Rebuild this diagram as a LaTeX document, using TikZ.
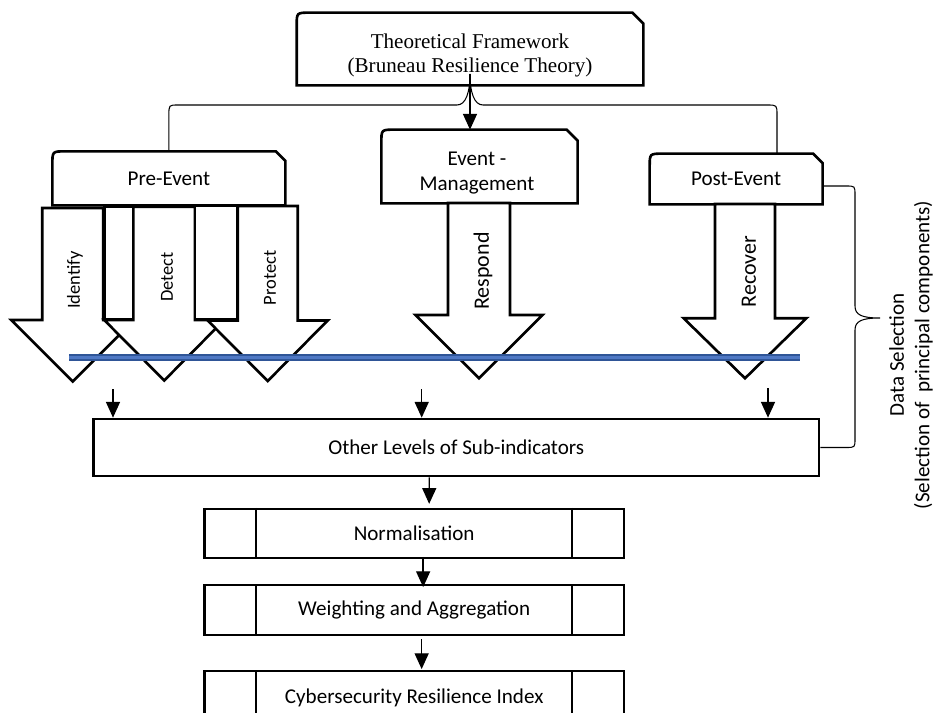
\documentclass[tikz,border=0pt]{standalone}
\usepackage{fontspec}
\setmainfont{Carlito}
\newfontfamily\serifface{Liberation Serif}
\usetikzlibrary{arrows.meta,calc,positioning}

\definecolor{bandedge}{RGB}{47,85,151}
\definecolor{bandfill}{RGB}{79,120,196}

\tikzset{
  boxedge/.style={line width=1.5pt, line join=miter},
  blockedge/.style={line width=1.5pt, line join=miter, fill=white},
  snipnode/.style={draw=none, inner sep=0pt, font=\fontsize{12}{14.4}\selectfont},
  boxtext/.style={inner sep=0pt, align=center, font=\fontsize{12}{14.4}\selectfont},
  tftext/.style={inner sep=0pt, align=center, font=\serifface\fontsize{12}{13.8}\selectfont},
  procbox/.style={draw, line width=1.3pt, inner sep=0pt, minimum width=8.386cm, font=\fontsize{12}{14.4}\selectfont},
  smalllabel/.style={rotate=90, inner sep=0pt, font=\fontsize{10.5}{12}\selectfont},
  biglabel/.style={rotate=90, inner sep=0pt, font=\fontsize{12.5}{14}\selectfont},
  braceline/.style={line width=0.6pt},
  flowarrow/.style={line width=0.75pt, -{Triangle[length=9pt,width=8pt]}}
}

% outline with one rounded and one snipped top corner
\newcommand{\snipoutline}[2]{%
  \draw[boxedge] (#1.south west) -- ($(#1.north west)+(0,13)$) .. controls (#1.north west) .. ($(#1.north west)+(13,0)$)
    -- ($(#1.north east)+(-#2,0)$) -- ($(#1.north east)+(0,#2)$) -- (#1.south east) -- cycle;}

% block arrow pointing down: centre, top, head top, tip, half shaft, half head
\newcommand{\downblock}[6]{%
  \draw[blockedge] (#1-#5,#2) -- (#1+#5,#2) -- (#1+#5,#3) -- (#1+#6,#3) -- (#1,#4) -- (#1-#6,#3) -- (#1-#5,#3) -- cycle;}

\begin{document}
\begin{tikzpicture}[x=0.02cm, y=-0.02cm]
  \useasboundingbox (0,0) rectangle (934,713);

  % framework
  \node[snipnode, minimum width=6.92cm, minimum height=1.44cm] (tf) at (470,49) {};
  \snipoutline{tf}{11}
  \node[tftext] (tftitle) at (470,55.2) {Theoretical Framework\\(Bruneau Resilience Theory)};

  % phases
  \node[snipnode, minimum width=4.646cm, minimum height=1.066cm] (pre) at (168.85,178.35) {Pre-Event};
  \snipoutline{pre}{9.5}
  \node[snipnode, minimum width=3.912cm, minimum height=1.46cm] (event) at (479.5,166.5) {};
  \snipoutline{event}{11}
  \node[boxtext] (eventtitle) at (477,172.8) {Event -\\Management};
  \node[snipnode, minimum width=3.446cm, minimum height=1cm] (post) at (736.15,179) {Post-Event};
  \snipoutline{post}{9.5}

  % brace from the framework
  \coordinate (tip) at (470,74);
  \coordinate (bracer) at (777,154);
  \draw[braceline] (pre.north) -- (168.9,115) .. controls (168.9,105) .. (178,105) -- (457,105)
    .. controls (466,105) and (470,92) .. (tip) .. controls (470,92) and (474,105) .. (483,105)
    -- (767,105) .. controls (777,105) .. (777,115) -- (bracer);
  \draw[flowarrow] (tip) -- (tip |- event.north);

  % functions
  \downblock{72.8}{208}{320}{381.5}{30.5}{61.5}
  \node[smalllabel] (identify) at (75,280) {Identify};
  \draw[blockedge] (104.3,206.7) rectangle (133.3,319.5);
  \downblock{164.2}{206.7}{320}{380.5}{30.8}{60}
  \node[smalllabel] (detect) at (167,277) {Detect};
  \draw[blockedge] (195,206) rectangle (237.7,319.5);
  \downblock{267.7}{206}{320.5}{381}{30}{60}
  \node[smalllabel] (protect) at (270,278) {Protect};
  \downblock{479}{203}{315}{378.3}{31}{63.5}
  \node[biglabel] (respond) at (483,271) {Respond};
  \downblock{745}{204}{318.3}{378.3}{30}{61.3}
  \node[biglabel] (recover) at (749,271.5) {Recover};

  % blue band
  \draw[line width=4pt, bandedge] (69,357.7) -- (800,357.7);
  \draw[line width=1.8pt, bandfill] (69,357.7) -- (800,357.7);

  % sub-indicators
  \node[procbox, minimum width=14.508cm, minimum height=1.14cm, line width=1.5pt] (other) at (456.3,447.5) {Other Levels of Sub-indicators};
  \coordinate (sub1) at (113,389);
  \coordinate (sub2) at (421.7,389);
  \coordinate (sub3) at (768,388);
  \draw[flowarrow] (sub1) -- (sub1 |- other.north);
  \draw[flowarrow] (sub2) -- (sub2 |- other.north);
  \draw[flowarrow] (sub3) -- (sub3 |- other.north);

  % index steps
  \node[procbox, minimum height=0.974cm] (norm) at (414.15,533.35) {Normalisation};
  \node[procbox, minimum height=0.994cm, below=0.506cm of norm] (weight) {Weighting and Aggregation};
  \node[procbox, minimum height=1.046cm, below=0.68cm of weight] (cri) {Cybersecurity Resilience Index};
  \foreach \b in {norm,weight,cri} {
    \draw[line width=1.3pt] ($(\b.north west)+(52.5,0)$) -- ($(\b.south west)+(52.5,0)$);
    \draw[line width=1.3pt] ($(\b.north east)+(-52.8,0)$) -- ($(\b.south east)+(-52.8,0)$);
  }
  \draw[flowarrow] ($(other.south)+(-27,0)$) -- ($(norm.north)+(15,-4)$);
  \draw[flowarrow] ($(norm.south)+(9,-2)$) -- ($(weight.north)+(9,3)$);
  \draw[flowarrow] ($(weight.south)+(7.5,3)$) -- ($(cri.north)+(7.5,-1)$);

  % data selection brace
  \coordinate (selstart) at (822,186);
  \coordinate (seltip) at (880,318);
  \draw[braceline] (selstart) -- (846,186) .. controls (855,186) .. (855,195) -- (855,306)
    .. controls (855,315) and (862,318) .. (seltip) .. controls (862,318) and (855,321) .. (855,330)
    -- (855,438.5) .. controls (855,447.5) .. (846,447.5) -- (other.east);
  \node[rotate=90, inner sep=0pt, align=center, font=\fontsize{12}{14.4}\selectfont] (seltext) at (911,355)
    {Data Selection\\(Selection of\ \ principal components)};
\end{tikzpicture}
\end{document}
